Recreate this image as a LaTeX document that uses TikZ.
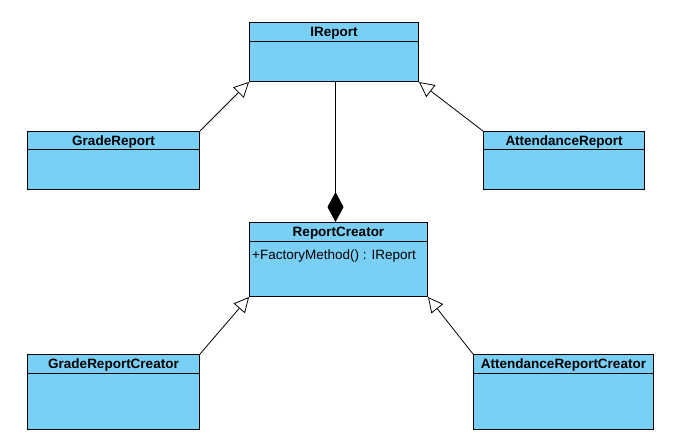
\documentclass[tikz,border=0pt]{standalone}
\usepackage{fontspec}
\setmainfont{Liberation Sans}
\usetikzlibrary{arrows.meta,calc}
\definecolor{umlblue}{RGB}{122,207,245}
\tikzset{
  cls/.style={draw=black, fill=umlblue, line width=1pt, inner sep=0pt, anchor=north west},
  ttl/.style={font=\fontsize{13.5}{16}\selectfont\bfseries, inner sep=0pt, anchor=base},
  meth/.style={font=\fontsize{13.5}{16}\selectfont, inner sep=0pt, anchor=base west},
  gen/.style={line width=0.8pt, -{Triangle[open, length=15pt, width=15pt, fill=white, line width=0.8pt]}},
  comp/.style={line width=0.8pt, -{Diamond[length=30pt, width=16pt, fill=black]}}
}
\begin{document}
\begin{tikzpicture}[x=1pt,y=-1pt]
\useasboundingbox (0,0) rectangle (682,447);
% IReport
\node[cls, minimum width=169pt, minimum height=59pt] (ireport) at (249,22) {};
\draw[line width=1pt] ($(ireport.north west)+(0,19)$) -- ($(ireport.north east)+(0,19)$);
\node[ttl] (ireportT) at ($(ireport.north)+(0,14.5)$) {IReport};
% GradeReport
\node[cls, minimum width=172pt, minimum height=58pt] (grade) at (27,131) {};
\draw[line width=1pt] ($(grade.north west)+(0,18)$) -- ($(grade.north east)+(0,18)$);
\node[ttl] (gradeT) at ($(grade.north)+(0,14.5)$) {GradeReport};
% AttendanceReport
\node[cls, minimum width=161pt, minimum height=58pt] (attend) at (483,131) {};
\draw[line width=1pt] ($(attend.north west)+(0,18)$) -- ($(attend.north east)+(0,18)$);
\node[ttl] (attendT) at ($(attend.north)+(0,14.5)$) {AttendanceReport};
% ReportCreator
\node[cls, minimum width=178pt, minimum height=74pt] (rc) at (249,222) {};
\draw[line width=1pt] ($(rc.north west)+(0,19)$) -- ($(rc.north east)+(0,19)$);
\node[ttl] (rcT) at ($(rc.north)+(0,14.5)$) {ReportCreator};
\node[meth] (rcM) at ($(rc.north west)+(3,37)$) {+FactoryMethod() : IReport};
% GradeReportCreator
\node[cls, minimum width=172pt, minimum height=75pt] (grc) at (27,354) {};
\draw[line width=1pt] ($(grc.north west)+(0,19)$) -- ($(grc.north east)+(0,19)$);
\node[ttl] (grcT) at ($(grc.north)+(0,14.5)$) {GradeReportCreator};
% AttendanceReportCreator
\node[cls, minimum width=180pt, minimum height=75pt] (arc) at (473,354) {};
\draw[line width=1pt] ($(arc.north west)+(0,19)$) -- ($(arc.north east)+(0,19)$);
\node[ttl] (arcT) at ($(arc.north)+(0,14.5)$) {AttendanceReportCreator};
% connectors
\draw[gen] (grade.north east) -- (ireport.south west);
\draw[gen] (attend.north west) -- (ireport.south east);
\draw[gen] (grc.north east) -- (rc.south west);
\draw[gen] (arc.north west) -- (rc.south east);
\coordinate (compTop) at ($(ireport.south)+(1.5,0)$);
\coordinate (compEnd) at (compTop |- rc.north);
\draw[comp] (compTop) -- (compEnd);
\end{tikzpicture}
\end{document}
